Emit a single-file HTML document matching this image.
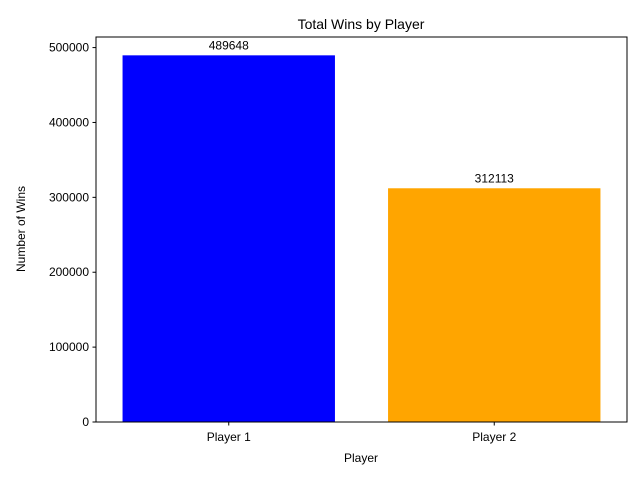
<!DOCTYPE html>
<html><head><meta charset="utf-8"><style>
body{margin:0;background:#fff;}
svg text{font-family:"Liberation Sans","DejaVu Sans",sans-serif;fill:#000;}
</style></head><body>
<svg id="chart" width="640" height="480" xmlns="http://www.w3.org/2000/svg">
<rect width="640" height="480" fill="#fff"/>
<text x="361" y="29" font-size="14" text-anchor="middle">Total Wins by Player</text>
<text x="361" y="462" font-size="12" text-anchor="middle">Player</text>
<text transform="translate(25,229) rotate(-90)" font-size="12" text-anchor="middle">Number of Wins</text>
<g id="marks"></g>
<rect x="96" y="37" width="531" height="385" fill="none" stroke="#000" stroke-width="1"/>
</svg>
<script>
const categories = ["Player 1", "Player 2"];
const wins = [489648, 312113];
const colors = ["blue", "orange"];
const yTicks = [0, 100000, 200000, 300000, 400000, 500000];

const L=96,R=627,T=37,B=422;
const yMax = Math.max(...wins)*1.05;
const y = v => B - v/yMax*(B-T);
const xu = (R-L)/categories.length;
const x = i => L + (i+0.5)*xu;
const g = document.getElementById('marks');
const NS="http://www.w3.org/2000/svg";
function mk(tag, attrs){const e=document.createElementNS(NS,tag);for(const k in attrs)e.setAttribute(k,attrs[k]);return e;}

yTicks.forEach(t=>{
  const yy=y(t);
  const ln=mk('line',{x1:L-3.5,x2:L,y1:yy,y2:yy,stroke:'#000'});
  
  
  g.appendChild(ln);
  const tx=mk('text',{x:L-7,y:yy+4,'font-size':12,'text-anchor':'end'});
  tx.textContent=t;
  
  
  g.appendChild(tx);
});
categories.forEach((c,i)=>{
  const cx=x(i), w=0.8*xu;
  const r=mk('rect',{x:cx-w/2,y:y(wins[i]),width:w,height:B-y(wins[i]),fill:colors[i]});
  
  
  g.appendChild(r);
  const v=mk('text',{x:cx,y:y(wins[i])-6,'font-size':12,'text-anchor':'middle'});
  v.textContent=wins[i];
  
  
  g.appendChild(v);
  const tk=mk('line',{x1:cx,x2:cx,y1:B,y2:B+3.5,stroke:'#000'});
  
  
  g.appendChild(tk);
  const lb=mk('text',{x:cx,y:B+19,'font-size':12,'text-anchor':'middle'});
  lb.textContent=c;
  
  
  g.appendChild(lb);
});
</script>
</body></html>
